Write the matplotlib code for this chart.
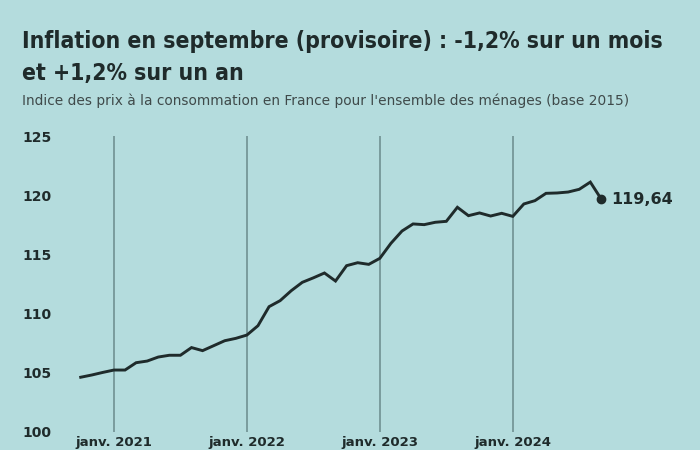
import numpy as np
import matplotlib.pyplot as plt

# indice des prix a la consommation, base 2015, oct. 2020 -> sept. 2024
months = ['oct. 2020', 'nov. 2020', 'déc. 2020',
          'janv. 2021', 'févr. 2021', 'mars 2021', 'avr. 2021', 'mai 2021', 'juin 2021',
          'juil. 2021', 'août 2021', 'sept. 2021', 'oct. 2021', 'nov. 2021', 'déc. 2021',
          'janv. 2022', 'févr. 2022', 'mars 2022', 'avr. 2022', 'mai 2022', 'juin 2022',
          'juil. 2022', 'août 2022', 'sept. 2022', 'oct. 2022', 'nov. 2022', 'déc. 2022',
          'janv. 2023', 'févr. 2023', 'mars 2023', 'avr. 2023', 'mai 2023', 'juin 2023',
          'juil. 2023', 'août 2023', 'sept. 2023', 'oct. 2023', 'nov. 2023', 'déc. 2023',
          'janv. 2024', 'févr. 2024', 'mars 2024', 'avr. 2024', 'mai 2024', 'juin 2024',
          'juil. 2024', 'août 2024', 'sept. 2024']
values = [104.59, 104.78, 105.00,
          105.20, 105.20, 105.82, 105.96, 106.30, 106.45,
          106.45, 107.10, 106.84, 107.26, 107.68, 107.88,
          108.16, 108.95, 110.56, 111.07, 111.91, 112.62,
          113.00, 113.41, 112.73, 114.03, 114.28, 114.14,
          114.65, 115.92, 116.96, 117.56, 117.50, 117.70,
          117.78, 118.97, 118.26, 118.49, 118.23, 118.46,
          118.20, 119.25, 119.53, 120.15, 120.18, 120.26,
          120.49, 121.10, 119.64]
yticks = [100, 105, 110, 115, 120, 125]
last_label = '119,64'

bg = '#b4dcdd'
ink = '#1f2b2b'

x = np.arange(len(values))
jan_idx = [i for i, m in enumerate(months) if m.startswith('janv.')]

fig = plt.figure(figsize=(7, 4.5), dpi=100, facecolor=bg)
ax = fig.add_axes([60/700, 18.5/450, 640/700, 295.5/450], facecolor=bg)

for i in jan_idx:
    ax.axvline(i, color='#6a8a8b', lw=1.1, zorder=1)

ax.plot(x, values, color=ink, lw=2.1, solid_joinstyle='miter', zorder=3)
ax.plot(x[-1], values[-1], 'o', color=ink, ms=6, zorder=4)
ax.annotate(last_label, (x[-1], values[-1]), xytext=(7, 0), textcoords='offset points',
            va='center', ha='left', fontsize=11.5, fontweight='bold', color=ink)

ax.set_xlim(-1.87, 55.9)
ax.set_ylim(100, 125)
ax.set_yticks(yticks)
ax.set_yticklabels([str(v) for v in yticks], fontweight='bold', fontsize=10, color=ink)
ax.set_xticks(jan_idx)
ax.set_xticklabels([months[i] for i in jan_idx], fontweight='bold', fontsize=9.5, color=ink)
ax.tick_params(axis='y', length=0, pad=6)
ax.tick_params(axis='x', length=0, pad=3)
for s in ax.spines.values():
    s.set_visible(False)

fig.text(22/700, 1 - 48/450, 'Inflation en septembre (provisoire) : -1,2% sur un mois',
         fontsize=16.5, fontweight='bold', fontstretch='condensed', color=ink, va='baseline')
fig.text(22/700, 1 - 80/450, 'et +1,2% sur un an',
         fontsize=16.5, fontweight='bold', fontstretch='condensed', color=ink, va='baseline')
fig.text(22/700, 1 - 104.5/450,
         "Indice des prix à la consommation en France pour l'ensemble des ménages (base 2015)",
         fontsize=9.9, color='#3f4a4a', va='baseline')

fig.savefig('out.png', dpi=100, facecolor=bg)
